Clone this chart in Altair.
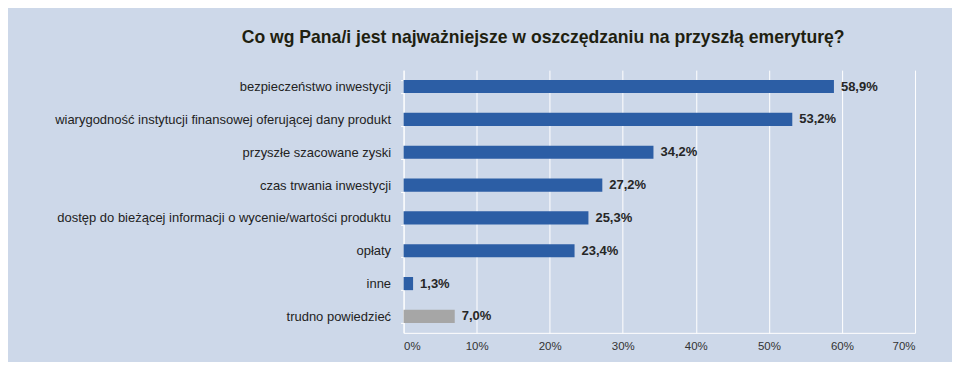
import altair as alt
import pandas as pd

categories = [
    "bezpieczeństwo inwestycji",
    "wiarygodność instytucji finansowej oferującej dany produkt",
    "przyszłe szacowane zyski",
    "czas trwania inwestycji",
    "dostęp do bieżącej informacji o wycenie/wartości produktu",
    "opłaty",
    "inne",
    "trudno powiedzieć",
]
values = [58.9, 53.2, 34.2, 27.2, 25.3, 23.4, 1.3, 7.0]
groups = ["main", "main", "main", "main", "main", "main", "main", "none"]
x_ticks = [0, 10, 20, 30, 40, 50, 60, 70]

df = pd.DataFrame({
    "cat": categories,
    "val": values,
    "grp": groups,
    "label": [f"{v:.1f}%".replace(".", ",") for v in values],
})

font = "Liberation Sans"

y_enc = alt.Y(
    "cat:N", sort=categories, title=None,
    scale=alt.Scale(paddingInner=0.6, paddingOuter=0.3),
    axis=alt.Axis(labelFont=font, labelFontSize=13, labelColor="#222222",
                  labelPadding=10, domainColor="white", tickColor="white",
                  tickBand="extent", tickSize=3, labelLimit=500),
)
x_enc = alt.X(
    "val:Q", title=None,
    scale=alt.Scale(domain=[0, 70], nice=False),
    axis=alt.Axis(values=x_ticks, labelExpr="datum.value + '%'",
                  labelFont=font, labelFontSize=11.5, labelColor="#333333",
                  gridColor="white", gridWidth=1, gridOpacity=1,
                  domainColor="white", ticks=False, labelPadding=8),
)

bars = alt.Chart(df).mark_bar().encode(
    x=x_enc,
    y=y_enc,
    color=alt.Color("grp:N", scale=alt.Scale(domain=["main", "none"],
                                               range=["#2C5EA5", "#A6A6A6"]),
                    legend=None),
)

text = alt.Chart(df).mark_text(
    align="left", baseline="middle", dx=7, font=font, fontSize=13,
    fontWeight="bold", color="#262626",
).encode(
    x="val:Q",
    y=alt.Y("cat:N", sort=categories),
    text="label:N",
)

chart = (bars + text).properties(
    width=512, height=263,
    background="#CDD8E9",
    padding={"left": 396, "top": 62, "right": 37, "bottom": 29},
    autosize=alt.AutoSizeParams(type="none"),
    title=alt.TitleParams(
        "Co wg Pana/i jest najważniejsze w oszczędzaniu na przyszłą emeryturę?",
        font=font, fontSize=17.6, fontWeight="bold", color="#1F1F10",
        anchor="start", frame="group", dx=-162, offset=18,
    ),
).configure_view(stroke=None)

chart.save("out.html", embed_options={"renderer": "svg", "actions": False})
